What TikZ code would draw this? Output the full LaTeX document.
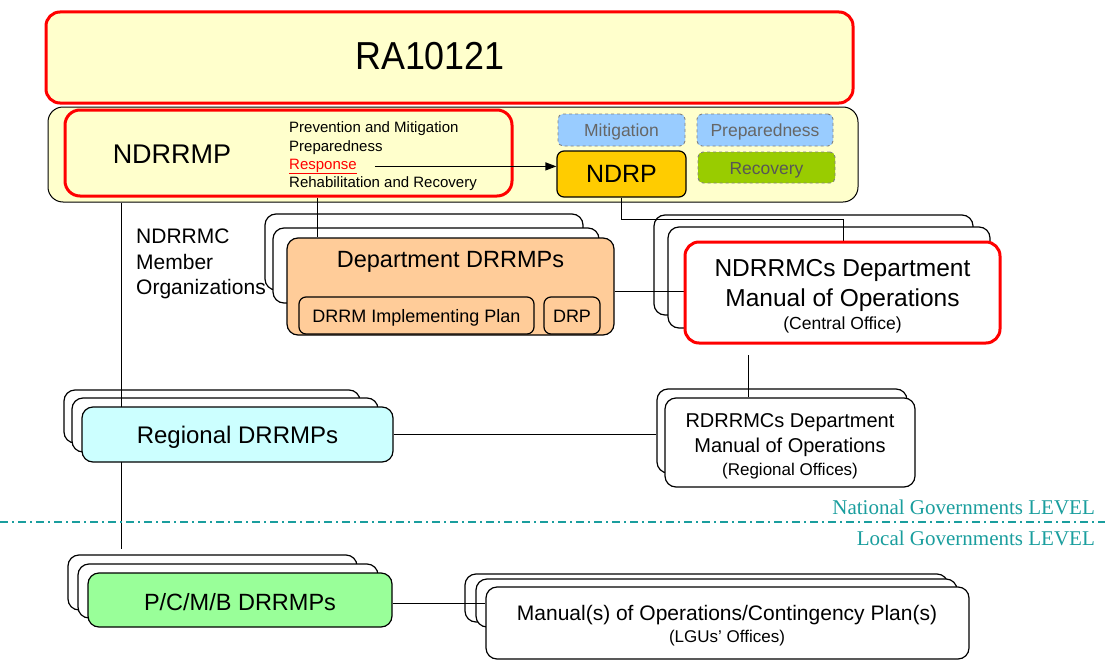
\documentclass[tikz,border=0pt]{standalone}
\usepackage{fontspec}
\setmainfont{Liberation Sans}
\newfontfamily\serifx{Liberation Serif}
\newfontfamily\narrowx[FakeStretch=0.92]{Liberation Sans}
\usetikzlibrary{fit,arrows.meta}
\pgfdeclarelayer{backl}
\pgfdeclarelayer{midl}
\pgfsetlayers{backl,midl,main}
\definecolor{paleyellow}{HTML}{FFFFCC}
\definecolor{redb}{HTML}{FF0000}
\definecolor{bluebox}{HTML}{99CCFF}
\definecolor{greenbox}{HTML}{99CC00}
\definecolor{ndrpfill}{HTML}{FFCC00}
\definecolor{peach}{HTML}{FFCC99}
\definecolor{cyanbox}{HTML}{CCFFFF}
\definecolor{lgreen}{HTML}{99FF99}
\definecolor{tealtxt}{HTML}{1A9E9E}
\definecolor{graytxt}{HTML}{666666}
\newcommand\fsz[2]{\fontsize{#1}{#2}\selectfont}
\begin{document}
\begin{tikzpicture}[x=1pt,y=-1pt,
  box/.style={draw=black, line width=1.2pt, rounded corners=11pt, inner sep=0pt, fill=white},
  redbox/.style={draw=redb, line width=3pt, rounded corners=14pt, inner sep=0pt},
  dashbox/.style={draw=gray, dashed, line width=0.9pt, rounded corners=5pt, inner sep=0pt},
  conn/.style={draw=black, line width=1pt},
  txt/.style={inner sep=0pt, anchor=base},
  lvl/.style={text=tealtxt, font=\serifx\fsz{21}{25}, anchor=base east, inner sep=0pt},
]
\useasboundingbox (0,0) rectangle (1105,661);

\begin{pgfonlayer}{backl}
\fill[white] (0,0) rectangle (1105,661);
% top boxes
\node[box, rounded corners=15pt, fill=paleyellow, line width=1pt, fit={(48,107) (858,202)}] (band) {};
\node[redbox, fill=paleyellow, fit={(46,12) (853,103)}] (ra) {};
\node[redbox, rounded corners=15pt, fit={(65,110) (512,196)}] (ndrrmp) {};
% small boxes
\node[dashbox, fill=bluebox, fit={(558,114) (685,146)}] (mit) {};
\node[dashbox, fill=bluebox, fit={(697,114) (833,146)}] (prep) {};
\node[dashbox, fill=greenbox, fit={(698,152) (835,183)}] (rec) {};
\node[box, rounded corners=7pt, fill=ndrpfill, fit={(557,151) (686,197)}] (ndrp) {};
% back boxes of the stacks
\node[box, fit={(265,214) (583,290)}] (dep1) {};
\node[box, fit={(273,228) (599,303)}] (dep2) {};
\node[box, fit={(654,215) (973,315)}] (ndmo1) {};
\node[box, fit={(668,227) (990,328)}] (ndmo2) {};
\node[box, fit={(64,390) (360,443)}] (reg1) {};
\node[box, fit={(72,398) (378,452)}] (reg2) {};
\node[box, fit={(657,389) (907,473)}] (rdmo1) {};
\node[box, fit={(68,555) (357,610)}] (pcmb1) {};
\node[box, fit={(78,564) (378,618)}] (pcmb2) {};
\node[box, fit={(465,574) (948,622)}] (man1) {};
\node[box, fit={(476,579) (957,627)}] (man2) {};
\end{pgfonlayer}

% texts in the top band
\node[txt, font=\narrowx\fsz{39}{44}] (ratext) at (430,70) {RA10121};
\node[txt, font=\fsz{27}{32}] (ndrrmptext) at (172,163.7) {NDRRMP};
\node[txt, anchor=base west, font=\fsz{15}{18}] (l1) at (289,132) {Prevention and Mitigation};
\node[txt, anchor=base west, font=\fsz{15}{18}] (l2) at (289,151) {Preparedness};
\node[txt, anchor=base west, font=\fsz{15}{18}, text=redb] (resp) at (289,169) {\underline{Response}};
\node[txt, anchor=base west, font=\fsz{15}{18}] (l4) at (289,187) {Rehabilitation and Recovery};
\node[txt, text=graytxt, font=\fsz{17.5}{20}] (mitt) at (621.5,136.8) {Mitigation};
\node[txt, text=graytxt, font=\fsz{17.5}{20}] (prept) at (765,136.8) {Preparedness};
\node[txt, text=graytxt!85!black, font=\fsz{17.5}{20}] (rect) at (766.5,174.5) {Recovery};
\node[txt, font=\fsz{25}{29}] (ndrpt) at (621.5,182.8) {NDRP};

% front boxes of the stacks
\node[box, fill=peach, fit={(287,238) (614,335)}] (dep) {};
\node[box, draw=redb, line width=3pt, rounded corners=14pt, fit={(685,242) (1000,343)}] (ndmo) {};
\node[box, fill=cyanbox, fit={(82,407) (393,462)}] (reg) {};
\node[box, fit={(665,398) (915,487)}] (rdmo) {};
\node[box, fill=lgreen, fit={(88,573) (392,627)}] (pcmb) {};
\node[box, fit={(486,587) (969,659)}] (man) {};

% inner boxes of Department DRRMPs
\node[box, fill=peach, rounded corners=7pt, fit={(299,297) (534,334)}] (dimp) {};
\node[box, fill=peach, rounded corners=7pt, fit={(544,297) (600,334)}] (ddrp) {};

% helper coordinates
\coordinate (x121) at (121,0);
\coordinate (x317) at (317,0);
\coordinate (j843) at (843,219);
\coordinate (y291) at (0,291);
\coordinate (s748) at (748,355);
\coordinate (y603) at (0,603);

% connectors
\begin{pgfonlayer}{midl}
\draw[conn] (band.south -| x121) -- ([yshift=5pt]pcmb1.north -| x121);
\draw[conn] (ndrrmp.south -| x317) -- (dep.north -| x317);
\draw[conn] (ndrp.south) |- (j843) -- (ndmo.north -| j843);
\draw[conn] (dep.east |- y291) -- (ndmo.west |- y291);
\draw[conn] (s748) -- (rdmo.north -| s748);
\draw[conn] (reg.east) -- (reg.east -| rdmo1.west);
\draw[conn] (pcmb.east |- y603) -- (man.west |- y603);
\draw[conn, line width=1.2pt, -{Triangle[length=11pt,width=8pt]}, shorten <=18pt] (resp.east) -- (ndrp.west |- resp.east);
\end{pgfonlayer}

% texts of the lower boxes
\node[txt, anchor=base west, font=\fsz{21}{25.5}] (mem1) at (136,243.5) {NDRRMC};
\node[txt, anchor=base west, font=\fsz{21}{25.5}] (mem2) at (136,269) {Member};
\node[txt, anchor=base west, font=\fsz{21}{25.5}] (mem3) at (136,294.5) {Organizations};

\node[txt, font=\fsz{23.5}{28}] (dept) at (450.5,267.4) {Department DRRMPs};
\node[txt, font=\fsz{18}{22}] (dimpt) at (416.5,322) {DRRM Implementing Plan};
\node[txt, font=\fsz{18}{22}] (ddrpt) at (572,322) {DRP};

\node[txt, font=\fsz{24.5}{30}] (ndmo1t) at (842.5,276.8) {NDRRMCs Department};
\node[txt, font=\fsz{24.5}{30}] (ndmo2t) at (842.5,306.8) {Manual of Operations};
\node[txt, font=\fsz{17.5}{21}] (ndmo3t) at (842.5,329.3) {(Central Office)};

\node[txt, font=\fsz{24}{28}] (regt) at (237.5,443.6) {Regional DRRMPs};

\node[txt, font=\fsz{20}{25}] (rdmo1t) at (790,427.2) {RDRRMCs Department};
\node[txt, font=\fsz{20}{25}] (rdmo2t) at (790,452.2) {Manual of Operations};
\node[txt, font=\fsz{17}{21}] (rdmo3t) at (790,475.1) {(Regional Offices)};

\node[txt, font=\fsz{23.5}{28}] (pcmbt) at (240,610.4) {P/C/M/B DRRMPs};

\node[txt, font=\fsz{21}{25}] (man1t) at (727,620) {Manual(s) of Operations/Contingency Plan(s)};
\node[txt, font=\fsz{17}{21}] (man2t) at (727,642) {(LGUs’ Offices)};

% level separator
\coordinate (lvlL) at (0,522);
\coordinate (lvlR) at (1105,522);
\draw[tealtxt, line width=1.4pt, dash pattern=on 8pt off 4pt on 2pt off 4pt] (lvlL) -- (lvlR);
\node[lvl] (natl) at (1095,514) {National Governments LEVEL};
\node[lvl] (locl) at (1095,545.5) {Local Governments LEVEL};
\end{tikzpicture}
\end{document}
